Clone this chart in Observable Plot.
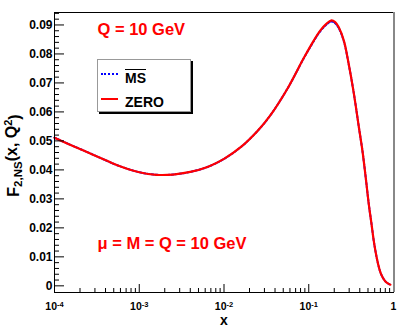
<!DOCTYPE html>
<html><head><meta charset="utf-8">
<script src="https://cdn.jsdelivr.net/npm/d3@7"></script>
<script src="https://cdn.jsdelivr.net/npm/@observablehq/plot@0.6"></script>
<style>
body{margin:0;background:#fff;}
#wrap{position:relative;width:403px;height:332px;font-family:"Liberation Sans",Arial,sans-serif;font-weight:bold;}
#legend{position:absolute;left:97px;top:59px;width:94px;height:53px;box-sizing:border-box;border:1px solid #999;box-shadow:2px 2px 0 #000;background:#fff;}
.lg{position:absolute;left:27px;font-size:14px;line-height:14px;color:#000;}
.sw{position:absolute;left:3px;width:17px;height:0;}
</style></head><body><div id="wrap"></div>
<script>
// x values
const xs = [1e-4, 1.5e-4, 2.2e-4, 3.5e-4, 5.5e-4, 1e-3, 1.6e-3, 2.5e-3, 4e-3, 6.5e-3, 1e-2, 1.6e-2, 2.5e-2, 3.5e-2, 5.6e-2, 8.7e-2, 0.115, 0.138, 0.16, 0.185, 0.205, 0.226, 0.26, 0.295, 0.34, 0.39, 0.43, 0.47, 0.51, 0.55, 0.59, 0.65, 0.71, 0.78, 0.85, 0.92];
// ZERO scheme
const zeroVals = [0.0511, 0.0488, 0.0467, 0.0441, 0.0416, 0.0392, 0.0383, 0.0384, 0.0393, 0.0411, 0.0438, 0.0480, 0.0535, 0.0587, 0.0680, 0.0785, 0.0847, 0.0882, 0.0903, 0.0916, 0.0910, 0.0892, 0.0845, 0.0768, 0.0665, 0.0548, 0.0466, 0.0374, 0.0284, 0.0214, 0.0148, 0.0082, 0.0042, 0.0020, 0.0009, 0.0004];
// MS-bar scheme
const msVals = [0.0511, 0.0488, 0.0467, 0.0441, 0.0416, 0.0392, 0.0383, 0.0384, 0.0393, 0.0411, 0.0438, 0.0480, 0.0535, 0.0587, 0.0680, 0.0784, 0.0845, 0.0880, 0.0900, 0.0912, 0.0906, 0.0889, 0.0843, 0.0767, 0.0665, 0.0548, 0.0466, 0.0374, 0.0284, 0.0214, 0.0148, 0.0082, 0.0042, 0.0020, 0.0009, 0.0004];
// axis ticks
const xMajor = [1e-4, 1e-3, 1e-2, 1e-1, 1];
const xMajorLabels = ["10^-4", "10^-3", "10^-2", "10^-1", "1"];
const xMinor = [1e-4, 1e-3, 1e-2, 1e-1].flatMap(d => [2,3,4,5,6,7,8,9].map(k => k * d));
const yMajor = [0, 0.01, 0.02, 0.03, 0.04, 0.05, 0.06, 0.07, 0.08, 0.09];
const yMajorLabels = ["0", "0.01", "0.02", "0.03", "0.04", "0.05", "0.06", "0.07", "0.08", "0.09"];
const yMinor = d3.range(1, 48).map(i => i * 0.002).filter(v => Math.abs(v * 100 - Math.round(v * 100)) > 1e-6);

const data = xs.map((x, i) => ({x, zero: zeroVals[i], ms: msVals[i]}));
const font = "Liberation Sans, Arial, sans-serif";

const chart = Plot.plot({
  width: 403, height: 332,
  marginLeft: 54, marginRight: 10, marginTop: 12, marginBottom: 40,
  style: {fontFamily: font, fontWeight: "bold", background: "#fff", color: "#000"},
  x: {type: "log", domain: [1e-4, 1]},
  y: {domain: [-0.0023, 0.0943]},
  marks: [
    Plot.line(data, {x: "x", y: "ms", stroke: "#0000ff", strokeWidth: 2, strokeDasharray: "2,2", curve: "catmull-rom"}),
    Plot.line(data, {x: "x", y: "zero", stroke: "#ff0000", strokeWidth: 2.2, curve: "catmull-rom"}),
    Plot.axisY(yMajor, {tickSize: -10, tickFormat: () => "", stroke: "#000", label: null}),
    Plot.axisY(yMinor, {tickSize: -5, tickFormat: () => "", stroke: "#000", label: null}),
    Plot.axisY(yMajor, {tickSize: 0, tickPadding: 2, fontSize: 12, tickFormat: d => yMajorLabels[yMajor.indexOf(d)], label: null}),
    Plot.axisX(xMajor, {tickSize: -8, tickFormat: () => "", stroke: "#000", label: null}),
    Plot.axisX(xMinor, {tickSize: -4, tickFormat: () => "", stroke: "#000", label: null}),
    Plot.axisX(xMajor, {tickSize: 0, tickPadding: 10.5, fontSize: 10.5, tickFormat: d => xMajorLabels[xMajor.indexOf(d)], label: null, className: "xlab"}),
    Plot.frame({stroke: "#000"}),
    Plot.ruleX([1], {stroke: "#888", strokeWidth: 2, dx: 0.5}),
    Plot.text(["Q = 10 GeV"], {frameAnchor: "top-left", dx: 43, dy: 11, lineAnchor: "top", textAnchor: "start", fill: "#ff0000", fontSize: 16.5, fontWeight: "bold"}),
    Plot.text(["μ = M = Q = 10 GeV"], {frameAnchor: "top-left", dx: 43, dy: 224.5, lineAnchor: "top", textAnchor: "start", fill: "#ff0000", fontSize: 16.5, fontWeight: "bold"}),
    Plot.text(["x"], {frameAnchor: "bottom", dy: 32, textAnchor: "middle", fontSize: 14, fontWeight: "bold", fill: "#000"}),
    Plot.text(["F_2,NS(x,Q^2)"], {frameAnchor: "left", dx: -41, dy: 3, rotate: -90, textAnchor: "middle", fontSize: 16, fontWeight: "bold", fill: "#000", className: "ylab"})
  ]
});

// superscripts in x tick labels
d3.select(chart).selectAll(".xlab text").each(function() {
  const t = this.textContent;
  if (t.includes("^")) {
    const [base, exp] = t.split("^");
    const sel = d3.select(this);
    sel.text(base);
    sel.append("tspan").attr("dy", "-0.45em").attr("font-size", "7.5px").text(exp);
  }
});
// y label with sub/superscript
d3.select(chart).selectAll(".ylab text").each(function() {
  const sel = d3.select(this);
  sel.text("F");
  sel.append("tspan").attr("dy", "0.3em").attr("font-size", "11.5px").text("2,NS");
  sel.append("tspan").attr("dy", "-0.3em").text("(x, Q");
  sel.append("tspan").attr("dy", "-0.45em").attr("font-size", "11px").text("2");
  sel.append("tspan").attr("dy", "0.45em").text(")");
});

const wrap = document.getElementById("wrap");
wrap.appendChild(chart);
const legend = document.createElement("div");
legend.id = "legend";
legend.innerHTML =
  '<div class="sw" style="top:13px;border-top:2px dotted #0000ff;"></div>' +
  '<div class="lg" style="top:11px;"><span style="text-decoration:overline;">MS</span></div>' +
  '<div class="sw" style="top:38px;border-top:2px solid #ff0000;"></div>' +
  '<div class="lg" style="top:35px;">ZERO</div>';
wrap.appendChild(legend);
</script>
</body></html>
